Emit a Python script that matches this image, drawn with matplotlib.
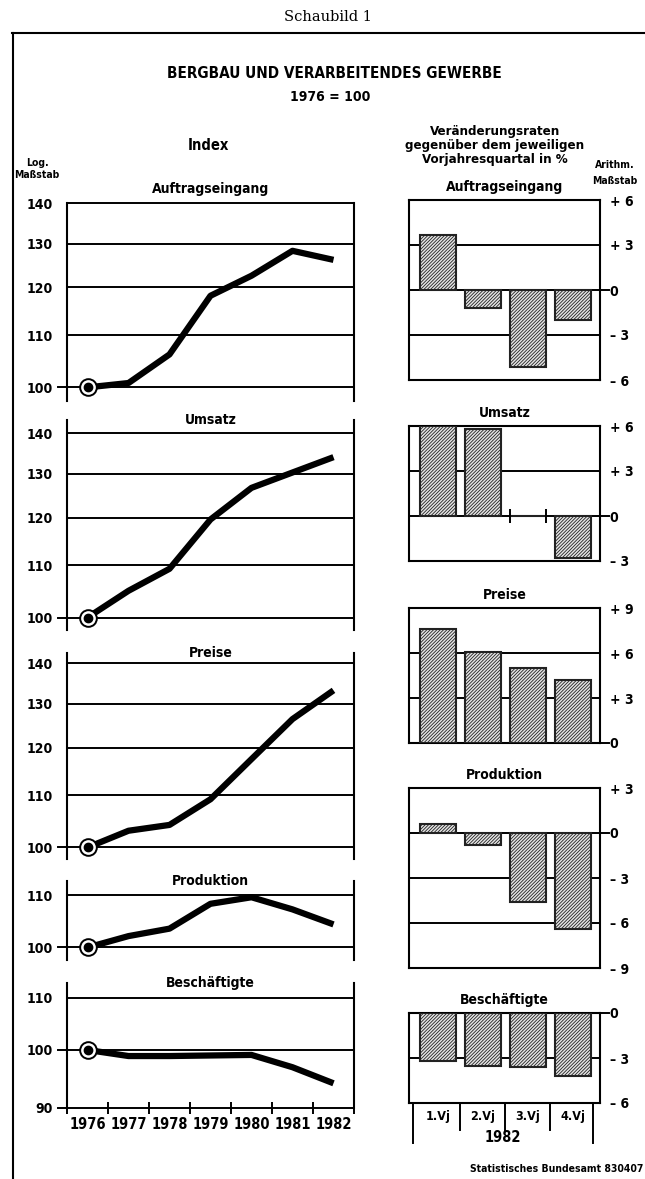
import numpy as np
import matplotlib
matplotlib.use("Agg")
import matplotlib.pyplot as plt
import matplotlib.transforms as mtransforms
from matplotlib.lines import Line2D

plt.rcParams['font.family'] = ['Liberation Sans Narrow', 'DejaVu Sans']
plt.rcParams['font.weight'] = 'bold'
plt.rcParams['font.stretch'] = 'condensed'
plt.rcParams['hatch.linewidth'] = 0.6

# Index values, 1976 = 100 (log scale)
years = [1976, 1977, 1978, 1979, 1980, 1981, 1982]
auftrag_idx = [100, 100.8, 106.2, 118.2, 122.6, 128.3, 126.2]
umsatz_idx = [100, 105.0, 109.3, 119.6, 126.7, 130.3, 134.0]
preise_idx = [100, 103.1, 104.2, 109.2, 117.5, 126.4, 133.2]
produktion_idx = [100, 102.1, 103.5, 108.3, 109.6, 107.2, 104.3]
beschaeft_idx = [100, 98.9, 98.9, 99.0, 99.1, 96.9, 94.1]

# Change rates 1982 vs. same quarter of previous year, in %
quartale = ['1.Vj', '2.Vj', '3.Vj', '4.Vj']
auftrag_rate = [3.7, -1.2, -5.1, -2.0]
umsatz_rate = [6.0, 5.8, 0.0, -2.8]
preise_rate = [7.6, 6.1, 5.0, 4.2]
produktion_rate = [0.6, -0.8, -4.6, -6.4]
beschaeft_rate = [-3.2, -3.5, -3.6, -4.2]

W, H = 645, 1179
fig = plt.figure(figsize=(W / 100, H / 100), dpi=100)


def px_axes(x0, y0, x1, y1):
    return fig.add_axes([x0 / W, 1 - y1 / H, (x1 - x0) / W, (y1 - y0) / H])


def ftext(x, y, s, **kw):
    kw.setdefault('ha', 'center')
    kw.setdefault('va', 'center')
    fig.text(x / W, 1 - y / H, s, **kw)


# frame
fig.add_artist(Line2D([12 / W, 1], [1 - 33 / H] * 2, color='k', lw=1.5))
fig.add_artist(Line2D([13 / W] * 2, [1 - 33 / H, 0], color='k', lw=1.5))

ftext(328, 17, 'Schaubild 1', family='DejaVu Serif', weight='normal',
      stretch='normal', fontsize=10.5)
ftext(334, 73, 'BERGBAU UND VERARBEITENDES GEWERBE', fontsize=11)
ftext(330, 97, '1976 = 100', fontsize=10)
ftext(208, 146, 'Index', fontsize=10.5)
ftext(495, 132, 'Veränderungsraten', fontsize=9.5)
ftext(495, 145, 'gegenüber dem jeweiligen', fontsize=9.5)
ftext(495, 159, 'Vorjahresquartal in %', fontsize=9.5)
ftext(37, 163, 'Log.', fontsize=7.5)
ftext(37, 175, 'Maßstab', fontsize=7.5)
ftext(615, 165, 'Arithm.', fontsize=7.5)
ftext(615, 181, 'Maßstab', fontsize=7.5)
ftext(643, 1169, 'Statistisches Bundesamt 830407', ha='right', fontsize=7.5)

# ---- left column: index lines on log scale
K = 548.0  # pixels per ln unit
left_panels = [
    ('Auftragseingang', auftrag_idx, 203, 97.5, 140.0, [100, 110, 120, 130, 140], 10),
    ('Umsatz', umsatz_idx, 420, 97.7, 143.4, [100, 110, 120, 130, 140], 0),
    ('Preise', preise_idx, 653, 97.9, 142.6, [100, 110, 120, 130, 140], 0),
    ('Produktion', produktion_idx, 881, 97.7, 112.9, [100, 110], 0),
    ('Beschäftigte', beschaeft_idx, 983, 90.0, 113.0, [90, 100, 110], 0),
]

for i, (title, vals, top, lo, hi, grid, off) in enumerate(left_panels):
    h = K * np.log(hi / lo)
    ax = px_axes(67, top, 354, top + h)
    ax.set_yscale('log')
    ax.set_ylim(lo, hi)
    ax.set_xlim(1975.5, 1982.5)
    ax.patch.set_alpha(0)
    for s in ['top', 'bottom']:
        ax.spines[s].set_visible(False)
    for s in ['left', 'right']:
        ax.spines[s].set_linewidth(1.5)
    for v in grid:
        xmin = -0.03 if v <= 100 else 0
        ax.axhline(v, xmin=xmin, xmax=1, color='k', lw=1.4, clip_on=False, zorder=1)
    ax.minorticks_off()
    ax.set_yticks(grid, labels=[str(v) for v in grid])
    ax.tick_params(axis='y', length=0, pad=10, labelsize=10)

    ax.plot(years, vals, color='k', lw=4.5, solid_joinstyle='round',
            solid_capstyle='butt', zorder=3)
    ax.plot(years[0], vals[0], 'o', ms=12, mfc='white', mec='k', mew=1.4, zorder=4)
    ax.plot(years[0], vals[0], 'o', ms=6, color='k', zorder=5)

    ax.annotate(title, xy=(0.5, 1), xycoords='axes fraction', xytext=(0, off),
                textcoords='offset points', ha='center', va='center', fontsize=10)

    if i == len(left_panels) - 1:
        ax.set_xticks(years, labels=[str(y) for y in years])
        ax.set_xticks(np.arange(1975.5, 1983, 1), minor=True)
        ax.tick_params(axis='x', which='major', length=0, pad=7, labelsize=10.5)
        ax.tick_params(axis='x', which='minor', direction='inout', length=9, width=1.4)
    else:
        ax.set_xticks([])

# ---- right column: change rates as hatched bars
P = 15.0  # pixels per percentage point
right_panels = [
    ('Auftragseingang', auftrag_rate, 200, -6, 6),
    ('Umsatz', umsatz_rate, 426, -3, 6),
    ('Preise', preise_rate, 608, 0, 9),
    ('Produktion', produktion_rate, 788, -9, 3),
    ('Beschäftigte', beschaeft_rate, 1013, -6, 0),
]


def fmt(v):
    if v == 0:
        return '0'
    return ('+ %d' % v) if v > 0 else ('– %d' % -v)


x = np.arange(len(quartale))
bw = 0.8
for i, (title, vals, top, lo, hi) in enumerate(right_panels):
    ax = px_axes(409, top, 600, top + P * (hi - lo))
    ax.set_ylim(lo, hi)
    ax.set_xlim(-0.644, 3.6)
    for s in ax.spines.values():
        s.set_linewidth(1.5)
    ticks = list(range(lo, hi + 1, 3))
    for v in ticks:
        if v == 0:
            ax.axhline(0, xmin=0, xmax=1.045, color='k', lw=1.4, clip_on=False, zorder=1)
        elif lo < v < hi:
            ax.axhline(v, color='k', lw=1.4, zorder=1)
    ax.bar(x, vals, width=bw, color='#e4e4e4', edgecolor='#222222',
           hatch='//////////', lw=1.5, zorder=3)
    for xi, v in zip(x, vals):
        if v == 0:
            ax.vlines([xi - bw / 2, xi + bw / 2], -0.45, 0.45, color='k', lw=1.4, zorder=4)
    ax.yaxis.tick_right()
    ax.set_yticks(ticks, labels=[fmt(v) for v in ticks])
    ax.tick_params(axis='y', length=0, pad=7, labelsize=10)
    ax.set_xticks([])
    ax.annotate(title, xy=(0.5, 1), xycoords='axes fraction', xytext=(0, 9.5),
                textcoords='offset points', ha='center', va='center', fontsize=10)

    if i == len(right_panels) - 1:
        tr = mtransforms.blended_transform_factory(ax.transData, ax.transAxes)
        for d, ln in zip([-0.56, 0.49, 1.49, 2.49, 3.44], [-0.44, -0.3, -0.3, -0.3, -0.44]):
            ax.add_artist(Line2D([d, d], [0, ln], transform=tr, color='k', lw=1.4,
                                 clip_on=False))
        for xi, q in zip(x, quartale):
            ax.text(xi, -0.155, q, transform=tr, ha='center', va='center', fontsize=9)
        ax.text(1.44, -0.38, '1982', transform=tr, ha='center', va='center', fontsize=10.5)

fig.savefig('out.png', dpi=100)
